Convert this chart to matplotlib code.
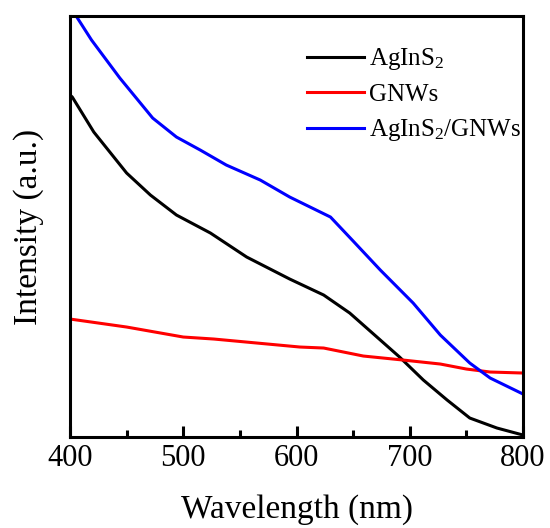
"""Absorption spectra of AgInS2, GNWs and the AgInS2/GNWs composite."""
import matplotlib
matplotlib.use("Agg")
import matplotlib.pyplot as plt
from matplotlib.ticker import MultipleLocator

plt.rcParams["font.family"] = ["Liberation Serif", "DejaVu Serif"]
plt.rcParams["mathtext.fontset"] = "custom"
plt.rcParams["mathtext.rm"] = "Liberation Serif"
plt.rcParams["mathtext.it"] = "Liberation Serif:italic"

# values (intensity in arbitrary units)
wl_ags = [400, 402, 421, 450, 471, 494, 524, 544, 556, 594, 624, 647, 671, 691, 712, 733, 753, 777, 800]
int_ags = [342, 340, 305, 264, 242, 222, 204, 189, 180, 158, 142, 124, 100, 80, 57, 37, 19, 9, 2]

wl_gnw = [400, 450, 500, 527, 603, 624, 659, 694, 727, 750, 771, 800]
int_gnw = [118, 110, 100, 98, 90, 89, 81, 77, 73, 68, 65, 64]

wl_comp = [400, 406, 419, 444, 473, 494, 515, 538, 568, 594, 630, 650, 674, 703, 727, 753, 771, 800]
int_comp = [431, 420, 397, 359, 319, 300, 287, 272, 257, 240, 220, 196, 167, 134, 102, 74, 59, 43]

fig = plt.figure(figsize=(5.5, 5.28), dpi=100)
ax = fig.add_axes([0.1273, 0.1723, 0.8236, 0.7973])

ax.plot(wl_ags, int_ags, color="black", lw=2.2, label="AgInS$_2$")
ax.plot(wl_gnw, int_gnw, color="#ff0000", lw=2.2, label="GNWs")
ax.plot(wl_comp, int_comp, color="#0000ff", lw=2.2, label="AgInS$_2$/GNWs")

ax.set_xlim(400, 800)
ax.set_ylim(0, 421)
ax.xaxis.set_major_locator(MultipleLocator(100))
ax.xaxis.set_minor_locator(MultipleLocator(50))
ax.tick_params(axis="x", which="major", direction="in", length=8, width=2.2, labelsize=22, pad=5)
ax.tick_params(axis="x", which="minor", direction="in", length=5, width=2.2)
ax.set_yticks([])
for sp in ax.spines.values():
    sp.set_linewidth(2.2)

ax.set_xlabel("Wavelength (nm)", fontsize=24, labelpad=15)
ax.set_ylabel("Intensity (a.u.)", fontsize=24, labelpad=19)

ax.legend(loc="upper left", bbox_to_anchor=(0.5225, 0.928), frameon=False, fontsize=18,
          handlelength=2.3, handletextpad=0.2, labelspacing=0.45, borderpad=0, borderaxespad=0)

fig.savefig("out.png", dpi=100)
plt.close(fig)
